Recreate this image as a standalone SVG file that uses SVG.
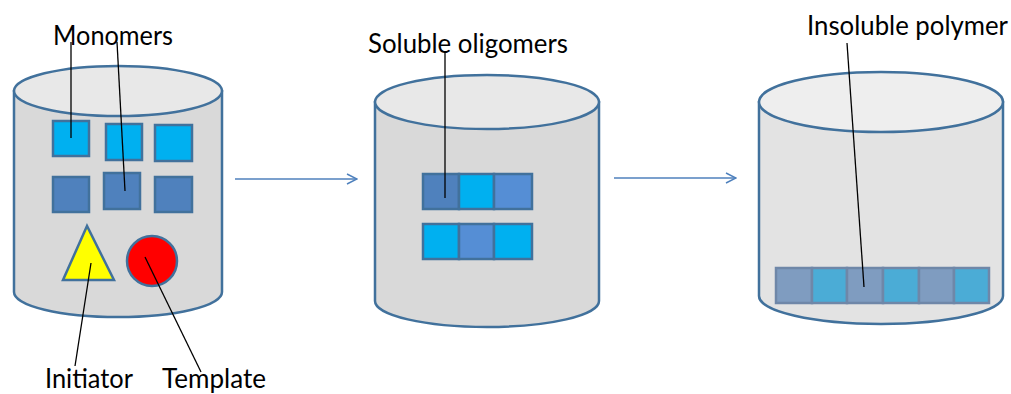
<svg xmlns="http://www.w3.org/2000/svg" width="1011" height="394" viewBox="0 0 1011 394">
<defs>
<style>
.cyl{fill:#D9D9D9;stroke:#41719C;stroke-width:2.5}
.cyl3{fill:#E3E3E3;stroke:#41719C;stroke-width:2.5}
.top{fill:#E8E8E8;stroke:#41719C;stroke-width:2.5}
.top3{fill:#EEEEEE;stroke:#41719C;stroke-width:2.5}
.sq{stroke:#41719C;stroke-width:2.5}
.lt{fill:#00B0F0}
.dk{fill:#4F81BD}
.md{fill:#558ED5}
.pg{fill:#7F9CC0;stroke:#6F87A8;stroke-width:2.5}
.pl{fill:#4BACD6;stroke:#6F87A8;stroke-width:2.5}
.lead{stroke:#000;stroke-width:1.3;fill:none}
.lbl{font-family:Lato,"Liberation Sans",Arial,sans-serif;font-size:26px;fill:#000}
.arr{stroke:#4F81BD;stroke-width:1.5;fill:none}
</style>
<marker id="ah" viewBox="0 0 12 12" refX="11" refY="6" markerWidth="12" markerHeight="12" markerUnits="userSpaceOnUse" orient="auto">
<path d="M1,1 L11,6 L1,11" fill="none" stroke="#4F81BD" stroke-width="1.5"/>
</marker>
</defs>
<rect width="1011" height="394" fill="#fff"/>

<g id="vessel1">
<path class="cyl" d="M14,91 L14,292 A104,25 0 0 0 222,292 L222,91 Z"/>
<ellipse class="top" cx="118" cy="91" rx="104" ry="25"/>
<rect class="sq lt" x="53" y="121" width="36" height="35"/>
<rect class="sq lt" x="106" y="124" width="36" height="36"/>
<rect class="sq lt" x="155" y="125" width="37" height="36"/>
<rect class="sq dk" x="53" y="177" width="36" height="35"/>
<rect class="sq dk" x="104" y="173" width="36" height="36"/>
<rect class="sq dk" x="155" y="177" width="37" height="35"/>
<polygon class="sq" fill="#FFFF00" points="87,226 63,280 114,280"/>
<circle class="sq" fill="#FF0000" cx="152" cy="261" r="25"/>
</g>

<g id="vessel2">
<path class="cyl" d="M375,102 L375,301 A112,26 0 0 0 599,301 L599,102 Z"/>
<ellipse class="top" cx="487" cy="102" rx="112" ry="27"/>
<rect class="sq dk" x="423" y="174" width="36" height="35"/>
<rect class="sq lt" x="459" y="174" width="35" height="35"/>
<rect class="sq md" x="494" y="174" width="38" height="35"/>
<rect class="sq lt" x="423" y="224" width="36" height="35"/>
<rect class="sq md" x="459" y="224" width="35" height="35"/>
<rect class="sq lt" x="494" y="224" width="38" height="35"/>
</g>

<g id="vessel3">
<path class="cyl3" d="M759,102 L759,296 A122,28 0 0 0 1003,296 L1003,102 Z"/>
<ellipse class="top3" cx="881" cy="102" rx="122" ry="30"/>
<rect class="pg" x="776" y="268" width="36" height="35"/>
<rect class="pl" x="812" y="268" width="35" height="35"/>
<rect class="pg" x="847" y="268" width="36" height="35"/>
<rect class="pl" x="883" y="268" width="36" height="35"/>
<rect class="pg" x="919" y="268" width="35" height="35"/>
<rect class="pl" x="954" y="268" width="35" height="35"/>
</g>

<g id="connectors">
<line class="arr" x1="235" y1="179" x2="357" y2="179" marker-end="url(#ah)"/>
<line class="arr" x1="614" y1="178" x2="736" y2="178" marker-end="url(#ah)"/>
<line class="lead" x1="71" y1="42" x2="71" y2="138"/>
<line class="lead" x1="117" y1="42" x2="125" y2="191"/>
<line class="lead" x1="91" y1="263" x2="75" y2="366"/>
<line class="lead" x1="145" y1="257" x2="201" y2="372"/>
<line class="lead" x1="445" y1="52" x2="445" y2="198"/>
<line class="lead" x1="847" y1="43" x2="864" y2="287"/>
</g>

<g id="labels">
<text class="lbl" x="45" y="388" textLength="88" lengthAdjust="spacingAndGlyphs">Initiator</text>
<text class="lbl" x="162" y="388" textLength="104" lengthAdjust="spacingAndGlyphs">Template</text>
<text class="lbl" x="53" y="45" textLength="120" lengthAdjust="spacingAndGlyphs">Monomers</text>
<text class="lbl" x="368" y="53" textLength="200" lengthAdjust="spacingAndGlyphs">Soluble oligomers</text>
<text class="lbl" x="807" y="35" textLength="201" lengthAdjust="spacingAndGlyphs">Insoluble polymer</text>
</g>
</svg>
